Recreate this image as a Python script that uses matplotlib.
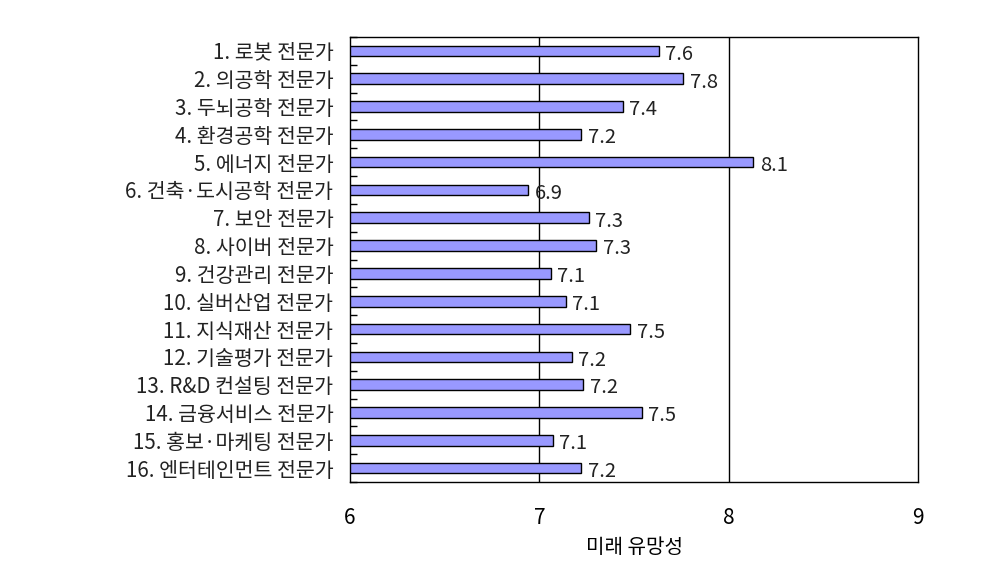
import numpy as np
import matplotlib
matplotlib.use("Agg")
import matplotlib.pyplot as plt

plt.rcParams['font.family'] = ['Noto Sans CJK KR', 'DejaVu Sans']

# categories (top to bottom) and scores
jobs = ["1. 로봇 전문가", "2. 의공학 전문가", "3. 두뇌공학 전문가", "4. 환경공학 전문가",
        "5. 에너지 전문가", "6. 건축·도시공학 전문가", "7. 보안 전문가", "8. 사이버 전문가",
        "9. 건강관리 전문가", "10. 실버산업 전문가", "11. 지식재산 전문가", "12. 기술평가 전문가",
        "13. R&D 컨설팅 전문가", "14. 금융서비스 전문가", "15. 홍보·마케팅 전문가",
        "16. 엔터테인먼트 전문가"]
scores = [7.63, 7.76, 7.44, 7.22, 8.13, 6.94, 7.26, 7.30,
          7.06, 7.14, 7.48, 7.17, 7.23, 7.54, 7.07, 7.22]
xticks = [6, 7, 8, 9]

fig = plt.figure(figsize=(9.9, 5.62), dpi=100)
ax = fig.add_axes([350/990, 1 - 482/562, 568/990, 445/562])

y = np.arange(len(jobs))
ax.barh(y, [s - 6 for s in scores], left=6, height=0.38, color="#9999ff",
        edgecolor="black", linewidth=1, zorder=3)

# value labels, one decimal
for yi, s in zip(y, scores):
    ax.text(s + 0.035, yi + 0.12, f"{s:.1f}", va="center", ha="left",
            fontsize=14.5, color="#222222", zorder=4)

ax.set_xlim(6, 9)
ax.set_ylim(len(jobs) - 0.5, -0.5)
ax.set_xticks(xticks)
ax.tick_params(axis="x", length=0, pad=18, labelsize=15)
ax.set_yticks(y)
ax.set_yticklabels(jobs, fontsize=14.8, color="#222222")
ax.tick_params(axis="y", which="major", length=0, pad=12)
ax.set_yticks(np.arange(-0.5, len(jobs), 1), minor=True)
ax.tick_params(axis="y", which="minor", direction="in", length=5, width=1)

for g in [7, 8]:
    ax.axvline(g, color="black", linewidth=1, zorder=1)
for sp in ax.spines.values():
    sp.set_color("black")
    sp.set_linewidth(1)

ax.set_xlabel("미래 유망성", fontsize=14.5, labelpad=6)

fig.savefig("out.png", dpi=100)
